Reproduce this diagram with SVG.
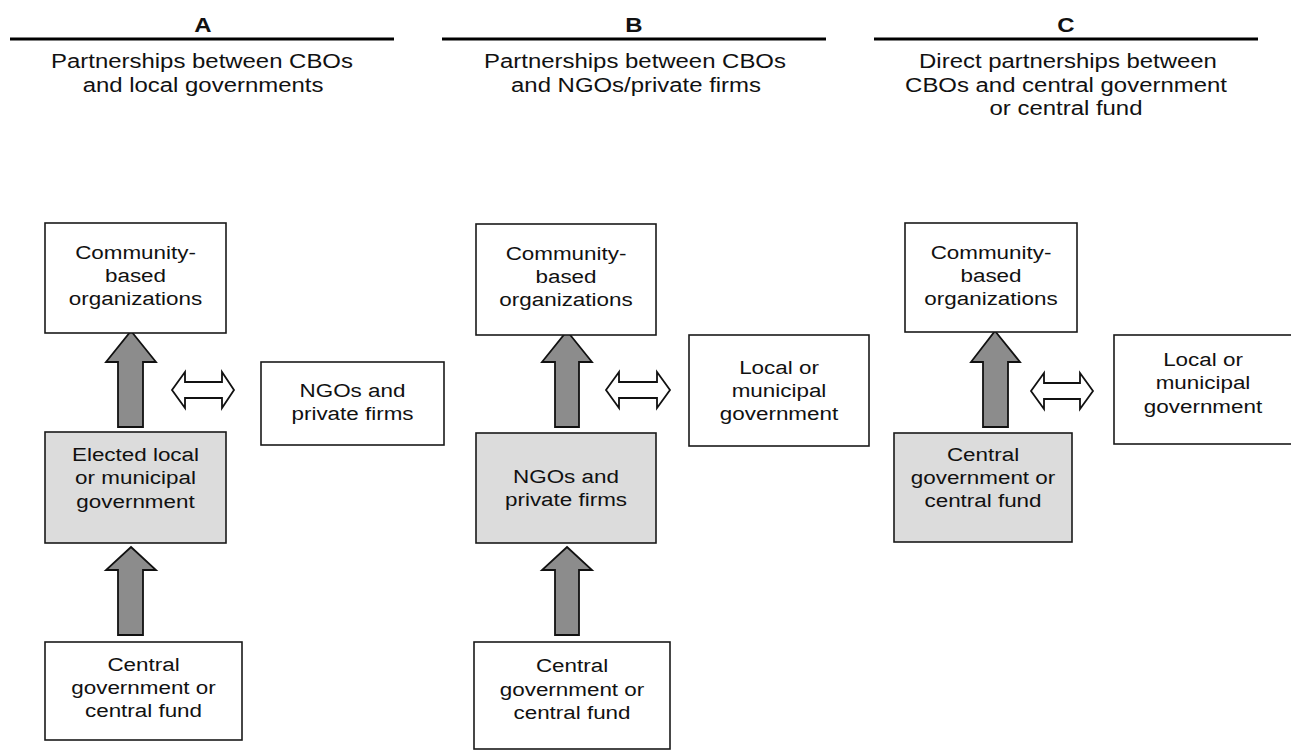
<svg xmlns="http://www.w3.org/2000/svg" width="1291" height="751" viewBox="0 0 1291 751">
<style>
text{font-family:"Liberation Sans",Arial,sans-serif;fill:#111;text-anchor:middle}
.hd{font-size:21px;font-weight:bold}
.ti{font-size:21px}
.nt{font-size:19px}
.box{fill:#fff;stroke:#1a1a1a;stroke-width:1.6}
.gbox{fill:#dcdcdc;stroke:#1a1a1a;stroke-width:1.6}
.rule{stroke:#000;stroke-width:3}
.up{fill:#8c8c8c;stroke:#111;stroke-width:1.8;stroke-linejoin:miter}
.dbl{fill:#fff;stroke:#111;stroke-width:1.8;stroke-linejoin:miter}
</style>
<rect width="1291" height="751" fill="#fff"/>

<g id="header-A">
<text class="hd" transform="matrix(1.14 0 0 1 203 0)" x="0" y="32">A</text>
<line class="rule" x1="10" y1="39" x2="394" y2="39"/>
<text class="ti" transform="matrix(1.14 0 0 1 202 0)" x="0" y="68">Partnerships between CBOs</text>
<text class="ti" transform="matrix(1.14 0 0 1 203 0)" x="0" y="92">and local governments</text>
</g>
<g id="header-B">
<text class="hd" transform="matrix(1.14 0 0 1 634 0)" x="0" y="32">B</text>
<line class="rule" x1="442" y1="39" x2="826" y2="39"/>
<text class="ti" transform="matrix(1.14 0 0 1 635 0)" x="0" y="68">Partnerships between CBOs</text>
<text class="ti" transform="matrix(1.14 0 0 1 636 0)" x="0" y="92">and NGOs/private firms</text>
</g>
<g id="header-C">
<text class="hd" transform="matrix(1.14 0 0 1 1066 0)" x="0" y="32">C</text>
<line class="rule" x1="874" y1="39" x2="1258" y2="39"/>
<text class="ti" transform="matrix(1.14 0 0 1 1068 0)" x="0" y="68">Direct partnerships between</text>
<text class="ti" transform="matrix(1.14 0 0 1 1066 0)" x="0" y="92">CBOs and central government</text>
<text class="ti" transform="matrix(1.14 0 0 1 1066 0)" x="0" y="115">or central fund</text>
</g>

<g id="connectors">
<path class="up" d="M131,331 L156,362 L143,362 L143,427 L118,427 L118,362 L106,362 Z"/>
<path class="up" d="M131,547 L156,570 L143,570 L143,635 L118,635 L118,570 L106,570 Z"/>
<path class="dbl" d="M172,390 L185,372 L185,382 L222,382 L222,372 L234,390 L222,408 L222,398 L185,398 L185,408 Z"/>
<path class="up" d="M567,331 L592,362 L579,362 L579,427 L555,427 L555,362 L542,362 Z"/>
<path class="up" d="M567,547 L592,570 L579,570 L579,635 L555,635 L555,570 L542,570 Z"/>
<path class="dbl" d="M606,390 L619,372 L619,382 L657,382 L657,372 L670,390 L657,408 L657,398 L619,398 L619,408 Z"/>
<path class="up" d="M995,331 L1020,362 L1008,362 L1008,427 L983,427 L983,362 L971,362 Z"/>
<path class="dbl" d="M1031,391 L1044,373 L1044,383 L1080,383 L1080,373 L1093,391 L1080,409 L1080,399 L1044,399 L1044,409 Z"/>
</g>

<g id="A-cbo">
<rect class="box" x="45" y="223" width="181" height="110"/>
<text class="nt" transform="matrix(1.18 0 0 1 135.5 0)" x="0" y="259">Community-</text>
<text class="nt" transform="matrix(1.18 0 0 1 135.5 0)" x="0" y="282">based</text>
<text class="nt" transform="matrix(1.18 0 0 1 135.5 0)" x="0" y="305">organizations</text>
</g>
<g id="A-local">
<rect class="gbox" x="45" y="432" width="181" height="111"/>
<text class="nt" transform="matrix(1.18 0 0 1 135.5 0)" x="0" y="461">Elected local</text>
<text class="nt" transform="matrix(1.18 0 0 1 135.5 0)" x="0" y="484">or municipal</text>
<text class="nt" transform="matrix(1.18 0 0 1 135.5 0)" x="0" y="508">government</text>
</g>
<g id="A-central">
<rect class="box" x="45" y="642" width="197" height="98"/>
<text class="nt" transform="matrix(1.18 0 0 1 143.5 0)" x="0" y="671">Central</text>
<text class="nt" transform="matrix(1.18 0 0 1 143.5 0)" x="0" y="694">government or</text>
<text class="nt" transform="matrix(1.18 0 0 1 143.5 0)" x="0" y="717">central fund</text>
</g>
<g id="A-ngo">
<rect class="box" x="261" y="362" width="183" height="83"/>
<text class="nt" transform="matrix(1.18 0 0 1 352.5 0)" x="0" y="397">NGOs and</text>
<text class="nt" transform="matrix(1.18 0 0 1 352.5 0)" x="0" y="420">private firms</text>
</g>

<g id="B-cbo">
<rect class="box" x="476" y="224" width="180" height="111"/>
<text class="nt" transform="matrix(1.18 0 0 1 566 0)" x="0" y="260">Community-</text>
<text class="nt" transform="matrix(1.18 0 0 1 566 0)" x="0" y="283">based</text>
<text class="nt" transform="matrix(1.18 0 0 1 566 0)" x="0" y="306">organizations</text>
</g>
<g id="B-ngo">
<rect class="gbox" x="476" y="433" width="180" height="110"/>
<text class="nt" transform="matrix(1.18 0 0 1 566 0)" x="0" y="483">NGOs and</text>
<text class="nt" transform="matrix(1.18 0 0 1 566 0)" x="0" y="506">private firms</text>
</g>
<g id="B-central">
<rect class="box" x="474" y="642" width="196" height="107"/>
<text class="nt" transform="matrix(1.18 0 0 1 572 0)" x="0" y="672">Central</text>
<text class="nt" transform="matrix(1.18 0 0 1 572 0)" x="0" y="696">government or</text>
<text class="nt" transform="matrix(1.18 0 0 1 572 0)" x="0" y="719">central fund</text>
</g>
<g id="B-local">
<rect class="box" x="689" y="335" width="180" height="111"/>
<text class="nt" transform="matrix(1.18 0 0 1 779 0)" x="0" y="374">Local or</text>
<text class="nt" transform="matrix(1.18 0 0 1 779 0)" x="0" y="397">municipal</text>
<text class="nt" transform="matrix(1.18 0 0 1 779 0)" x="0" y="420">government</text>
</g>

<g id="C-cbo">
<rect class="box" x="905" y="223" width="172" height="109"/>
<text class="nt" transform="matrix(1.18 0 0 1 991 0)" x="0" y="259">Community-</text>
<text class="nt" transform="matrix(1.18 0 0 1 991 0)" x="0" y="282">based</text>
<text class="nt" transform="matrix(1.18 0 0 1 991 0)" x="0" y="305">organizations</text>
</g>
<g id="C-central">
<rect class="gbox" x="894" y="433" width="178" height="109"/>
<text class="nt" transform="matrix(1.18 0 0 1 983 0)" x="0" y="461">Central</text>
<text class="nt" transform="matrix(1.18 0 0 1 983 0)" x="0" y="484">government or</text>
<text class="nt" transform="matrix(1.18 0 0 1 983 0)" x="0" y="507">central fund</text>
</g>
<g id="C-local">
<rect class="box" x="1114" y="335" width="182" height="109"/>
<text class="nt" transform="matrix(1.18 0 0 1 1203 0)" x="0" y="366">Local or</text>
<text class="nt" transform="matrix(1.18 0 0 1 1203 0)" x="0" y="389">municipal</text>
<text class="nt" transform="matrix(1.18 0 0 1 1203 0)" x="0" y="413">government</text>
</g>
</svg>
